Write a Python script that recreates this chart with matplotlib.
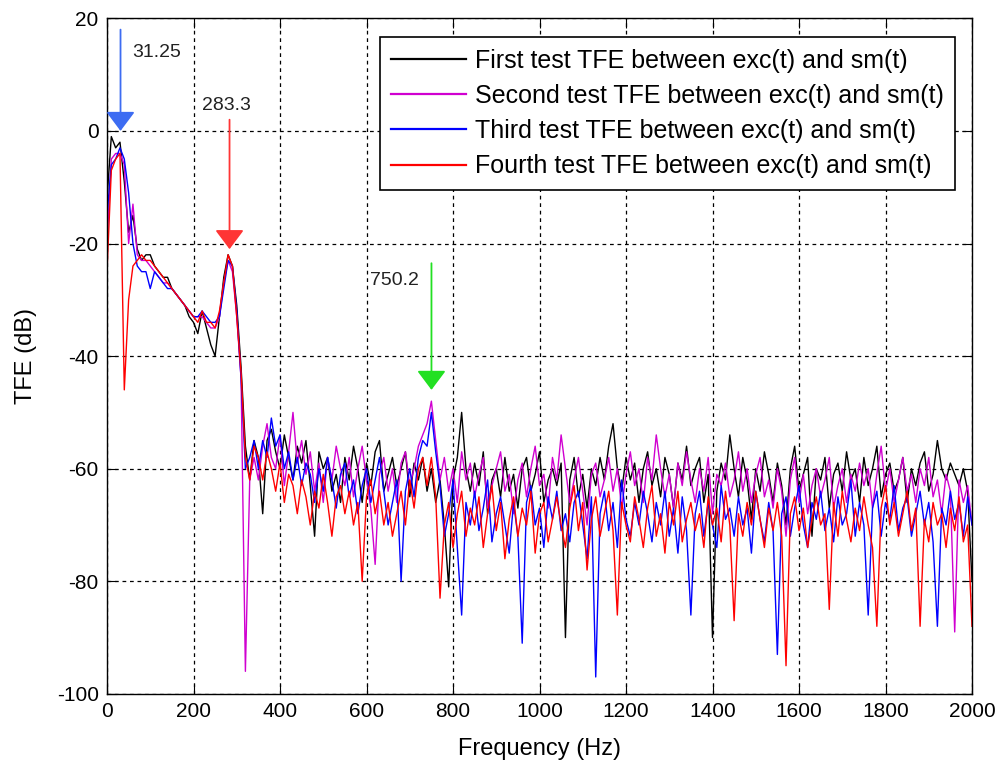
import numpy as np
import matplotlib
matplotlib.use('Agg')
import matplotlib.pyplot as plt

plt.rcParams['font.family'] = ['Liberation Sans', 'DejaVu Sans']
plt.rcParams['axes.unicode_minus'] = False

# frequency grid (Hz), one value every 10 Hz
freq = np.arange(0, 2001, 10)

# TFE values in dB, 0..340 Hz (the low frequency part)
first_low = [-12, -1, -3, -2, -9, -18, -15, -21, -23, -22,
             -22, -24, -25, -26, -26, -28, -29, -30, -31, -33,
             -34, -36, -32, -35, -38, -40, -33, -26, -22, -24,
             -31, -42, -56, -62, -55]
second_low = [-20, -5, -4, -4, -6, -20, -13, -22, -23, -23,
              -24, -25, -26, -27, -27, -28, -29, -30, -31, -32,
              -33, -33, -33, -34, -35, -35, -33, -27, -23, -25,
              -33, -44, -96, -62, -58]
third_low = [-15, -6, -5, -3, -5, -11, -20, -24, -25, -25,
             -28, -25, -26, -27, -28, -28, -29, -30, -31, -32,
             -33, -33, -32, -33, -34, -34, -33, -28, -23, -24,
             -32, -44, -60, -58, -55]
fourth_low = [-25, -7, -5, -4, -46, -30, -24, -23, -22, -23,
              -23, -24, -25, -26, -27, -28, -29, -30, -31, -32,
              -33, -34, -32, -34, -34, -35, -32, -27, -22, -24,
              -33, -43, -58, -62, -56]

# TFE values in dB, 350..2000 Hz
first_high = [-58, -68, -55, -53, -57, -60, -54, -58, -62, -56,
              -59, -55, -63, -72, -57, -60, -58, -64, -61, -66,
              -58, -62, -56, -60, -66, -59, -63, -57, -55, -64,
              -61, -58, -63, -60, -57, -65, -59, -62, -58, -64,
              -60, -66, -62, -70, -81, -62, -58, -50, -60, -64,
              -59, -63, -57, -68, -62, -60, -65, -58, -64, -61,
              -67, -60, -58, -64, -61, -57, -66, -62, -60, -63,
              -59, -90, -62, -58, -65, -61, -67, -60, -63, -58,
              -62, -56, -52, -60, -64, -58, -62, -59, -66, -60,
              -57, -63, -60, -65, -58, -61, -67, -59, -62, -56,
              -63, -60, -58, -66, -61, -90, -64, -59, -62, -54,
              -60, -65, -58, -62, -69, -60, -64, -57, -61, -66,
              -59, -63, -70, -60, -56, -64, -61, -58, -72, -60,
              -62, -58, -67, -61, -59, -64, -57, -62, -60, -66,
              -58, -63, -60, -56, -65, -61, -59, -64, -62, -58,
              -66, -60, -63, -59, -57, -64, -61, -55, -60, -62,
              -59, -61, -63, -60, -64, -80]
second_high = [-62, -56, -52, -58, -60, -54, -63, -57, -50, -59,
               -55, -61, -57, -64, -59, -66, -58, -62, -56, -60,
               -63, -58, -65, -60, -56, -62, -67, -77, -61, -58,
               -64, -60, -66, -59, -57, -63, -60, -56, -54, -52,
               -48, -55, -62, -58, -64, -60, -66, -57, -62, -59,
               -65, -61, -58, -67, -63, -60, -57, -64, -61, -68,
               -62, -59, -65, -60, -56, -63, -61, -67, -58, -62,
               -54, -60, -66, -62, -58, -64, -70, -61, -59, -65,
               -62, -58, -64, -60, -67, -61, -57, -63, -60, -66,
               -58, -62, -54, -60, -65, -61, -67, -59, -63, -57,
               -62, -66, -60, -64, -58, -68, -61, -63, -59, -65,
               -62, -57, -64, -60, -66, -61, -58, -65, -62, -67,
               -60, -64, -72, -62, -58, -66, -61, -68, -63, -60,
               -65, -62, -58, -67, -63, -60, -66, -61, -64, -59,
               -63, -60, -67, -61, -56, -64, -60, -66, -62, -58,
               -64, -61, -66, -60, -63, -58, -65, -62, -68, -61,
               -64, -89, -62, -66, -63, -70]
third_high = [-60, -55, -58, -51, -56, -54, -60, -57, -62, -58,
              -63, -59, -61, -66, -60, -64, -58, -62, -67, -61,
              -59, -65, -62, -68, -63, -60, -66, -62, -58, -64,
              -70, -66, -62, -80, -64, -60, -65, -58, -55, -56,
              -50, -57, -63, -72, -68, -62, -74, -86, -66, -70,
              -64, -71, -67, -62, -73, -68, -65, -70, -75, -66,
              -72, -91, -66, -63, -70, -67, -74, -65, -69, -64,
              -71, -68, -73, -66, -64, -70, -76, -65, -97, -68,
              -64, -71, -66, -74, -62, -69, -72, -66, -70, -64,
              -68, -73, -66, -70, -64, -72, -67, -75, -65, -71,
              -86, -68, -64, -72, -66, -70, -74, -63, -69, -67,
              -72, -65, -70, -67, -75, -64, -69, -73, -66, -71,
              -93, -68, -65, -72, -67, -63, -70, -74, -66, -69,
              -64, -71, -67, -73, -65, -70, -68, -62, -72, -66,
              -70, -86, -67, -64, -72, -66, -69, -63, -71, -67,
              -65, -72, -68, -64, -70, -66, -73, -88, -67, -70,
              -64, -69, -66, -72, -65, -70]
fourth_high = [-58, -62, -57, -60, -64, -59, -66, -61, -63, -68,
               -62, -65, -70, -64, -67, -61, -66, -72, -65, -63,
               -68, -64, -70, -66, -80, -65, -62, -68, -64, -70,
               -66, -72, -68, -64, -70, -62, -67, -60, -58, -63,
               -58, -65, -83, -70, -66, -74, -68, -64, -72, -67,
               -70, -65, -74, -68, -63, -71, -66, -76, -69, -65,
               -72, -67, -70, -64, -75, -68, -66, -73, -69, -65,
               -70, -74, -67, -63, -71, -66, -78, -69, -65, -72,
               -68, -64, -71, -86, -66, -70, -73, -65, -69, -74,
               -67, -63, -72, -68, -75, -66, -70, -64, -73, -69,
               -66, -71, -68, -74, -65, -70, -67, -73, -64, -70,
               -87, -68, -72, -66, -70, -64, -69, -74, -67, -71,
               -66, -72, -95, -68, -65, -71, -67, -74, -69, -65,
               -70, -68, -85, -66, -72, -64, -69, -73, -67, -71,
               -65, -70, -74, -88, -67, -63, -70, -66, -72, -68,
               -64, -71, -67, -88, -69, -73, -66, -70, -68, -74,
               -67, -71, -65, -73, -70, -88]

labels = ['First test TFE between exc(t) and sm(t)',
          'Second test TFE between exc(t) and sm(t)',
          'Third test TFE between exc(t) and sm(t)',
          'Fourth test TFE between exc(t) and sm(t)']
colors = ['k', '#d000d0', '#0000ff', '#ff0000']

# peak markers: frequency, arrow top, arrow tip, text position
peak_freq = [31.25, 283.3, 750.2]
peak_top = [18, 2, -23.5]
peak_tip = [0, -21, -46]
peak_text = ['31.25', '283.3', '750.2']
peak_text_xy = [(58, 14), (220, 4.5), (608, -26.5)]
peak_colors = ['#3d6cf2', '#ff3535', '#22e022']


def main():
    series = [first_low + first_high, second_low + second_high,
              third_low + third_high, fourth_low + fourth_high]

    fig = plt.figure(figsize=(10, 7.65), dpi=100)
    ax = fig.add_axes([0.107, 0.093, 0.865, 0.883])

    for vals, c, lab in zip(series, colors, labels):
        ax.plot(freq, vals, color=c, lw=1.0, label=lab)

    for f, y0, y1, txt, (tx, ty), c in zip(peak_freq, peak_top, peak_tip,
                                           peak_text, peak_text_xy, peak_colors):
        ax.annotate('', xy=(f, y1), xytext=(f, y0),
                    arrowprops=dict(arrowstyle='-|>,head_width=0.45,head_length=0.6',
                                    color=c, lw=1.3, mutation_scale=20,
                                    shrinkA=0, shrinkB=0))
        ax.text(tx, ty, txt, fontsize=14, color='#222222', ha='left', va='center')

    ax.set_xlim(0, 2000)
    ax.set_ylim(-100, 20)
    ax.set_xticks(np.arange(0, 2001, 200))
    ax.set_yticks(np.arange(-100, 21, 20))
    ax.grid(True, color='k', linestyle=(0, (3, 3)), lw=0.9)
    ax.tick_params(direction='in', length=7, top=True, right=True,
                   labelsize=15, pad=6)
    for s in ax.spines.values():
        s.set_linewidth(1.0)

    ax.set_xlabel('Frequency (Hz)', fontsize=17, labelpad=12)
    ax.set_ylabel('TFE (dB)', fontsize=17, labelpad=14)

    leg = ax.legend(loc='upper right', bbox_to_anchor=(0.98, 0.972), fontsize=18,
                    fancybox=False, edgecolor='k', framealpha=1,
                    handlelength=3.0, handletextpad=0.35, borderaxespad=0,
                    labelspacing=0.45, borderpad=0.45)
    leg.get_frame().set_linewidth(1.2)
    for line in leg.get_lines():
        line.set_linewidth(1.6)

    fig.savefig('out.png', dpi=100)


if __name__ == '__main__':
    main()
